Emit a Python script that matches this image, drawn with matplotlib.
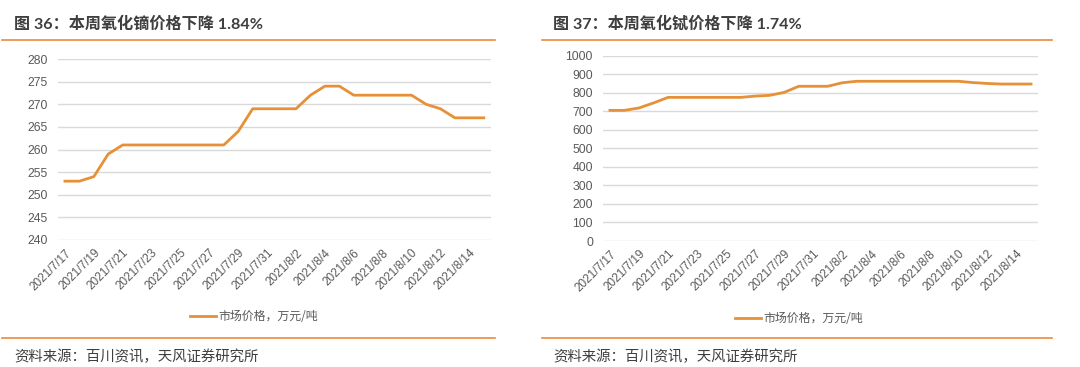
import matplotlib
matplotlib.use("Agg")
import matplotlib.pyplot as plt
from matplotlib.lines import Line2D
import pandas as pd

# ---- data ----
dates = [f"{d.year}/{d.month}/{d.day}" for d in pd.date_range("2021-07-17", "2021-08-15")]
dy_price = [253, 253, 254, 259, 261, 261, 261, 261, 261, 261,
            261, 261, 264, 269, 269, 269, 269, 272, 274, 274,
            272, 272, 272, 272, 272, 270, 269, 267, 267, 267]
tb_price = [705, 705, 718, 745, 775, 775, 775, 775, 775, 775,
            782, 786, 802, 835, 835, 835, 854, 862, 862, 862,
            862, 862, 862, 862, 862, 855, 850, 847, 847, 847]
titles = ["图 36：本周氧化镝价格下降 1.84%", "图 37：本周氧化铽价格下降 1.74%"]
legend_label = "市场价格，万元/吨"
source = "资料来源：百川资讯，天风证券研究所"

W, H = 1080, 367
ORANGE_RULE = "#EC8A3C"
LINE_C = "#E69138"
GRID_C = "#D9D9D9"
TICK_C = "#595959"
TITLE_C = "#3F3F3F"
CJK = ["Noto Sans CJK SC", "DejaVu Sans"]
TITLE_F = ["Lato", "Noto Sans CJK SC"]
TICK_F = ["Liberation Sans", "DejaVu Sans"]

fig = plt.figure(figsize=(W / 100, H / 100), dpi=100)
fig.patch.set_facecolor("white")

def fx(px):
    return px / W

def fy(py):
    return 1 - py / H

panels = [
    dict(data=dy_price, ylim=(240, 280), step=5,
         ax_px=(57.7, 59, 491, 240), title_x=14, rule=(1.5, 495),
         leg_c=(254, 316.7)),
    dict(data=tb_price, ylim=(0, 1000), step=100,
         ax_px=(602.7, 55.7, 1038.3, 241), title_x=553, rule=(541.5, 1052),
         leg_c=(799, 319)),
]

for i, p in enumerate(panels):
    x0, y0, x1, y1 = p["ax_px"]
    ax = fig.add_axes([fx(x0), fy(y1), fx(x1 - x0), (y1 - y0) / H])
    xs = list(range(len(dates)))
    ax.plot(xs, p["data"], color=LINE_C, lw=2.0, label=legend_label,
            solid_joinstyle="round")
    ax.set_xlim(-0.5, len(dates) - 0.5)
    lo, hi = p["ylim"]
    ax.set_ylim(lo, hi)
    ax.set_yticks(list(range(lo, hi + 1, p["step"])))
    ax.grid(axis="y", color=GRID_C, lw=1.0)
    ax.set_axisbelow(True)
    for s in ax.spines.values():
        s.set_visible(False)
    ax.set_xticks(xs[::2])
    ax.set_xticklabels(dates[::2], rotation=45, ha="right", va="top",
                       rotation_mode="anchor", family=TICK_F, fontsize=8.5,
                       color=TICK_C)
    ax.tick_params(axis="x", length=0, pad=5)
    ax.tick_params(axis="y", length=0, pad=7, labelcolor=TICK_C, labelsize=8.8)
    for t in ax.get_yticklabels():
        t.set_family(TICK_F)
    leg = ax.legend(loc="center", bbox_to_anchor=(fx(p["leg_c"][0]), fy(p["leg_c"][1])),
                    bbox_transform=fig.transFigure, frameon=False,
                    handlelength=2.2, handletextpad=0.15,
                    prop={"family": CJK, "size": 8.6})
    for t in leg.get_texts():
        t.set_color(TICK_C)

    # title
    fig.text(fx(p["title_x"]), fy(24), titles[i], family=TITLE_F, fontsize=11.6,
             fontweight="bold", color=TITLE_C, ha="left", va="center")
    r0, r1 = p["rule"]
    fig.add_artist(Line2D([fx(r0), fx(r1)], [fy(39.5), fy(39.5)],
                          color=ORANGE_RULE, lw=1.2))
    fig.add_artist(Line2D([fx(r0), fx(r1)], [fy(338), fy(338)],
                          color=ORANGE_RULE, lw=1.2))
    fig.text(fx(p["title_x"]), fy(356.5), source, family=CJK, fontsize=10.4,
             color=TITLE_C, ha="left", va="center")

fig.savefig("out.png", dpi=100, facecolor="white")
